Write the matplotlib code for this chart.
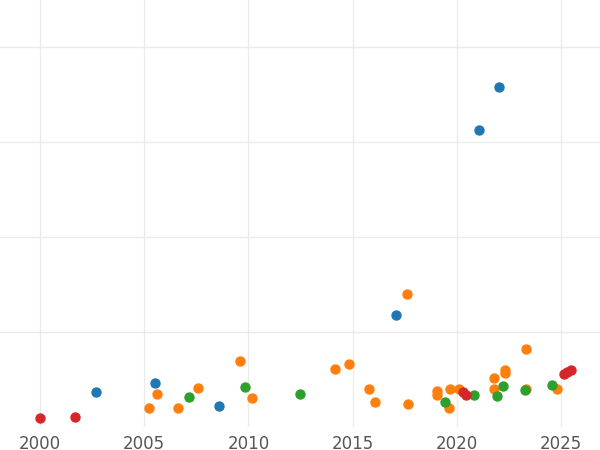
import matplotlib
matplotlib.use("Agg")
import matplotlib.pyplot as plt

# data (year, value)
red_x = [2000.0, 2001.68, 2020.3, 2020.44, 2025.14, 2025.29, 2025.48]
red_y = [0.09, 0.11, 0.37, 0.34, 0.56, 0.58, 0.60]
blue_x = [2002.69, 2005.52, 2008.59, 2017.08, 2021.07, 2022.02]
blue_y = [0.37, 0.46, 0.22, 1.18, 3.12, 3.58]
orange_x = [2005.23, 2005.61, 2006.62, 2007.58, 2009.6, 2010.17, 2014.16, 2014.83,
            2015.79, 2016.07, 2017.61, 2017.66, 2019.05, 2019.05, 2019.63, 2019.67,
            2020.11, 2021.79, 2021.79, 2022.31, 2022.31, 2023.32, 2023.32, 2024.81]
orange_y = [0.20, 0.35, 0.20, 0.41, 0.69, 0.31, 0.61, 0.66,
            0.40, 0.26, 1.40, 0.24, 0.38, 0.34, 0.20, 0.40,
            0.40, 0.52, 0.40, 0.60, 0.57, 0.82, 0.40, 0.40]
green_x = [2007.15, 2009.84, 2012.48, 2019.43, 2020.83, 2021.93, 2022.22, 2023.27, 2024.56]
green_y = [0.32, 0.42, 0.35, 0.26, 0.34, 0.33, 0.43, 0.39, 0.44]
year_ticks = [2000, 2005, 2010, 2015, 2020, 2025]

fig = plt.figure(figsize=(6, 4.5), dpi=100)
ax = fig.add_axes([0, 23 / 450, 1, 427 / 450])

ax.scatter(blue_x, blue_y, s=42, color="#1f77b4", zorder=3)
ax.scatter(orange_x, orange_y, s=42, color="#ff7f0e", zorder=3)
ax.scatter(green_x, green_y, s=42, color="#2ca02c", zorder=3)
ax.scatter(red_x, red_y, s=42, color="#d62728", zorder=3)

ax.set_xlim(1998.08, 2026.87)
ax.set_ylim(0, 4.49)
ax.set_xticks(year_ticks)
ax.set_yticks([1, 2, 3, 4])
ax.set_yticklabels([])
ax.grid(True, color="#ebebeb", linewidth=1)
ax.set_axisbelow(True)
for s in ax.spines.values():
    s.set_visible(False)
ax.tick_params(length=0, labelsize=12, labelcolor="#555555", pad=6)

fig.savefig("out.png")
